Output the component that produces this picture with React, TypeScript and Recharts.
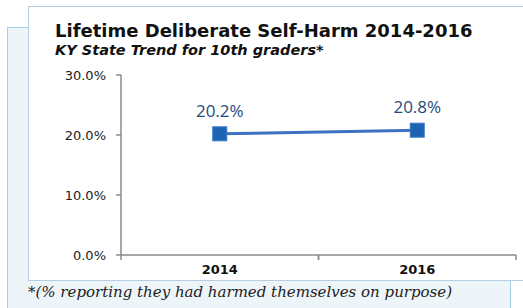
import { LineChart, Line, XAxis, YAxis, LabelList } from 'recharts';

const years = ['2014', '2016'];
const selfHarmPct = [20.2, 20.8];
const yTicks = [0, 10, 20, 30];

const data = years.map((year, i) => ({ year, value: selfHarmPct[i] }));

const SquareDot = (props: any) => {
  const { cx, cy } = props;
  if (cx == null || cy == null) return null;
  return <rect x={cx - 7} y={cy - 7} width={14} height={14} fill="#1d63b4" stroke="#3a78c6" strokeWidth={1} />;
};

// year label centred in its band, with small tick marks on the band edges
const YearTick = (props: any) => {
  const { x, y, payload } = props;
  const half = payload.offset || 0;
  const axisY = y - 10;
  return (
    <g>
      <line x1={x - half} y1={axisY} x2={x - half} y2={axisY + 5} stroke="#8a8a8a" strokeWidth={1.5} />
      <line x1={x + half} y1={axisY} x2={x + half} y2={axisY + 5} stroke="#8a8a8a" strokeWidth={1.5} />
      <text x={x} y={y + 9} textAnchor="middle" fontFamily="DejaVu Sans" fontWeight="bold" fontSize={13} fill="#111">
        {payload.value}
      </text>
    </g>
  );
};

export default function App() {
  return (
    <div style={{ position: 'fixed', left: 0, top: 0, width: 523, height: 308, background: '#fff', overflow: 'hidden' }}>
      <div
        style={{
          position: 'absolute', left: 7, top: 27, width: 502, height: 300,
          background: '#eef5f8', border: '1.5px solid #a3d0e6',
        }}
      />
      <div
        style={{
          position: 'absolute', left: 28, top: 6, width: 520, height: 273,
          background: '#fff', border: '1.5px solid #b7cde2',
        }}
      />
      <div style={{ position: 'absolute', left: 55, top: 20, fontFamily: 'DejaVu Sans', fontWeight: 'bold', fontSize: 18, color: '#111', whiteSpace: 'nowrap' }}>
        Lifetime Deliberate Self-Harm 2014-2016
      </div>
      <div style={{ position: 'absolute', left: 55, top: 42, fontFamily: 'DejaVu Sans', fontWeight: 'bold', fontStyle: 'italic', fontSize: 14.5, color: '#111', whiteSpace: 'nowrap' }}>
        KY State Trend for 10th graders*
      </div>
      <div style={{ position: 'absolute', left: 28, top: 283, fontFamily: 'DejaVu Serif', fontStyle: 'italic', fontSize: 15, color: '#222', whiteSpace: 'nowrap' }}>
        *(% reporting they had harmed themselves on purpose)
      </div>
      <div style={{ position: 'absolute', left: 0, top: 0 }}>
        <LineChart width={523} height={308} data={data} margin={{ top: 75, right: 7, bottom: 23, left: 61 }}>
          <XAxis
            dataKey="year"
            scale="band"
            height={30}
            axisLine={{ stroke: '#8a8a8a', strokeWidth: 1.5 }}
            tickLine={false}
            tickSize={5}
            tickMargin={5}
            tick={<YearTick />}
            interval={0}
          />
          <YAxis
            domain={[0, 30]}
            ticks={yTicks}
            width={60}
            axisLine={{ stroke: '#8a8a8a', strokeWidth: 1.5 }}
            tickLine={{ stroke: '#8a8a8a', strokeWidth: 1.5 }}
            tickSize={5}
            tickMargin={10}
            tickFormatter={(v: number) => `${v.toFixed(1)}%`}
            tick={{ fontFamily: 'DejaVu Sans', fontSize: 13, fill: '#1a1a1a' }}
          />
          <Line
            dataKey="value"
            stroke="#3d72c2"
            strokeWidth={3}
            dot={<SquareDot />}
            activeDot={false}
            isAnimationActive={false}
          >
            <LabelList
              dataKey="value"
              position="top"
              offset={17}
              formatter={(v: any) => `${Number(v).toFixed(1)}%`}
              style={{ fontFamily: 'Open Sans', fontSize: 17, fill: '#254a7c' }}
            />
          </Line>
        </LineChart>
      </div>
    </div>
  );
}
